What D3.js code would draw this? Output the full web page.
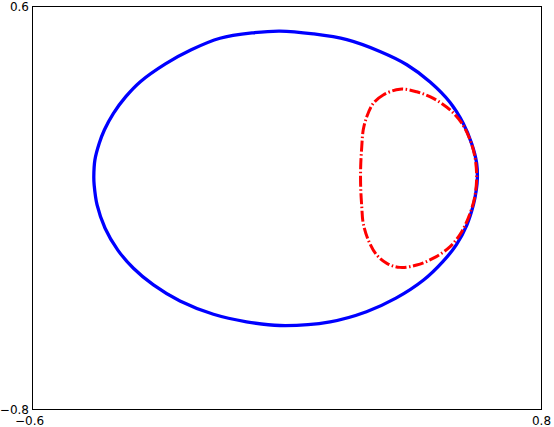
<!DOCTYPE html>
<html>
<head>
<meta charset="utf-8">
<script src="https://cdn.jsdelivr.net/npm/d3@7"></script>
<style>
  body{margin:0;background:#fff;}
  text{font-family:"DejaVu Sans",sans-serif;font-size:12px;fill:#000;}
</style>
</head>
<body>
<div id="grafica"></div>
<script>
// ticks de los ejes
var xTicks=[-0.6,0.8];
var yTicks=[-0.8,0.6];

// contorno azul
var azulX=[-0.430,-0.427,-0.415,-0.401,-0.376,-0.342,-0.302,-0.233,-0.162,-0.083,0.009,0.082,0.174,0.266,0.357,0.431,0.495,0.550,0.586,0.609,0.623,0.625,0.622,0.614,0.596,0.567,0.530,0.477,0.401,0.320,0.220,0.082,-0.010,-0.101,-0.193,-0.266,-0.321,-0.364,-0.399,-0.421,-0.429];
var azulY=[0.007,0.065,0.123,0.169,0.227,0.285,0.337,0.399,0.448,0.488,0.507,0.513,0.503,0.483,0.442,0.396,0.336,0.265,0.193,0.123,0.054,0.002,-0.039,-0.091,-0.161,-0.230,-0.288,-0.352,-0.415,-0.462,-0.497,-0.510,-0.497,-0.471,-0.425,-0.369,-0.311,-0.248,-0.172,-0.091,-0.022];

// contorno rojo punteado
var rojoX=[0.412,0.366,0.339,0.321,0.311,0.307,0.304,0.304,0.307,0.311,0.325,0.348,0.376,0.412,0.458,0.504,0.550,0.582,0.605,0.618,0.623,0.618,0.605,0.582,0.550,0.504,0.458];
var rojoY=[0.311,0.291,0.262,0.216,0.169,0.111,0.042,-0.028,-0.097,-0.155,-0.213,-0.265,-0.294,-0.308,-0.300,-0.276,-0.236,-0.184,-0.120,-0.062,0.007,0.077,0.135,0.193,0.239,0.279,0.302];

grafica();
function grafica(){
	var ancho=554, alto=427;
	var margin={top:6,left:32,right:13,bottom:18};

	var svg=d3.select("#grafica").append("svg")
		.attr("width",ancho).attr("height",alto);

	var x=d3.scaleLinear().domain([-0.6,0.8]).range([margin.left,ancho-margin.right]);
	var y=d3.scaleLinear().domain([-0.8,0.6]).range([alto-margin.bottom,margin.top]);

	var azul=azulX.map((d,i)=>({x:d,y:azulY[i]}));
	var rojo=rojoX.map((d,i)=>({x:d,y:rojoY[i]}));

	var linea=d3.line().x(d=>x(d.x)).y(d=>y(d.y)).curve(d3.curveCatmullRomClosed.alpha(0.5));

	svg.append("path").datum(azul)
		.attr("d",linea)
		.attr("fill","none")
		.attr("stroke","#0000ff")
		.attr("stroke-width",3.3)
		.attr("stroke-linejoin","round");

	svg.append("path").datum(rojo)
		.attr("d",linea)
		.attr("fill","none")
		.attr("stroke","#ff0000")
		.attr("stroke-width",3)
		.attr("stroke-dasharray","11,2.5,1.5,2.5");

	// marco
	svg.append("rect")
		.attr("x",x(-0.6)).attr("y",y(0.6))
		.attr("width",x(0.8)-x(-0.6)).attr("height",y(-0.8)-y(0.6))
		.attr("fill","none").attr("stroke","#000").attr("stroke-width",1)
		.attr("shape-rendering","crispEdges");

	var fmt=d=>d3.format(".1f")(d).replace("-","\u2212");

	var ejeX=svg.append("g")
		.attr("transform",`translate(0,${y(-0.8)})`)
		.call(d3.axisBottom(x).tickValues(xTicks).tickFormat(fmt).tickSizeInner(-4).tickSizeOuter(0).tickPadding(7.5));
	var ejeY=svg.append("g")
		.attr("transform",`translate(${x(-0.6)},0)`)
		.call(d3.axisLeft(y).tickValues(yTicks).tickFormat(fmt).tickSizeInner(-4).tickSizeOuter(0).tickPadding(3));

	[ejeX,ejeY].forEach(function(g){
		g.select(".domain").remove();
		g.selectAll("text").attr("font-family","DejaVu Sans").attr("font-size",12).attr("fill","#000");
	});
	ejeY.selectAll("text").attr("dy","0.4em");
	ejeX.selectAll("text").attr("dx",d=>d<0?"-3px":"0");
}
</script>
</body>
</html>
